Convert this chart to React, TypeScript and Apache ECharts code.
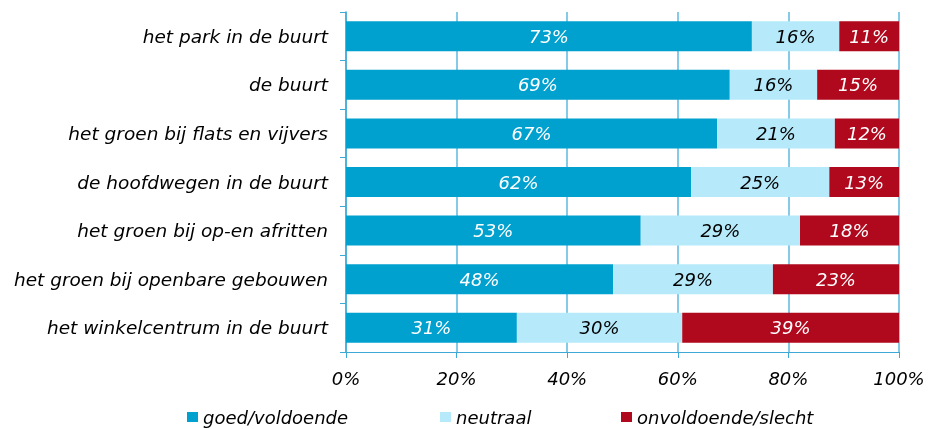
import React, { useEffect, useRef } from "react";
import * as echarts from "echarts";

const categories = [
  "het park in de buurt",
  "de buurt",
  "het groen bij flats en vijvers",
  "de hoofdwegen in de buurt",
  "het groen bij op-en afritten",
  "het groen bij openbare gebouwen",
  "het winkelcentrum in de buurt",
];
const goed = [73.4, 69.4, 67.1, 62.4, 53.3, 48.3, 30.9];
const neutraal = [15.8, 15.8, 21.3, 25.0, 28.8, 28.9, 29.9];
const onvoldoende = [10.8, 14.8, 11.6, 12.6, 17.9, 22.8, 39.2];
const xTicks = [0, 20, 40, 60, 80, 100];
const seriesNames = ["goed/voldoende", "neutraal", "onvoldoende/slecht"];

const FONT = "DejaVu Sans";
const AXIS_COLOR = "#3fa9d6";
const GRID_COLOR = "#5db8df";

export default function App() {
  const ref = useRef<HTMLDivElement>(null);
  useEffect(() => {
    const chart = echarts.init(ref.current!, null, { renderer: "svg" });
    const labelStyle = (color: string) => ({
      show: true,
      position: "inside",
      formatter: (p: any) => Math.round(p.value) + "%",
      color,
      fontFamily: FONT,
      fontStyle: "italic",
      fontSize: 18,
    });
    const legendBase = {
      top: 406,
      padding: 0,
      icon: "rect",
      itemWidth: 11,
      itemHeight: 10,
      textStyle: {
        fontFamily: FONT,
        fontStyle: "italic",
        fontSize: 18,
        lineHeight: 22,
        color: "#000",
      },
    };
    chart.setOption({
      animation: false,
      textStyle: { fontFamily: FONT },
      grid: { left: 346, right: 31, top: 12, bottom: 77 },
      legend: [
        { ...legendBase, left: 187, data: [seriesNames[0]] },
        { ...legendBase, left: 440, data: [seriesNames[1]] },
        { ...legendBase, left: 621, data: [seriesNames[2]] },
      ],
      xAxis: {
        type: "value",
        min: 0,
        max: 100,
        interval: 20,
        axisLine: { show: true, lineStyle: { color: AXIS_COLOR, width: 1 } },
        axisTick: { show: true, length: 6, lineStyle: { color: AXIS_COLOR } },
        splitLine: { show: true, lineStyle: { color: GRID_COLOR, width: 1.5 } },
        axisLabel: {
          margin: 17,
          fontFamily: FONT,
          fontStyle: "italic",
          fontSize: 18,
          color: "#000",
          formatter: (v: number) => (xTicks.includes(v) ? v + "%" : ""),
        },
      },
      yAxis: {
        type: "category",
        inverse: true,
        data: categories,
        axisLine: { show: true, lineStyle: { color: AXIS_COLOR, width: 1.5 } },
        axisTick: { show: true, length: 6, lineStyle: { color: AXIS_COLOR } },
        axisLabel: {
          margin: 18,
          fontFamily: FONT,
          fontStyle: "italic",
          fontSize: 18.5,
          color: "#000",
        },
      },
      series: [
        {
          name: seriesNames[0],
          type: "bar",
          stack: "total",
          data: goed,
          barWidth: 30,
          itemStyle: { color: "#00a0cf" },
          label: labelStyle("#ffffff"),
        },
        {
          name: seriesNames[1],
          type: "bar",
          stack: "total",
          data: neutraal,
          barWidth: 30,
          itemStyle: { color: "#b6eafb" },
          label: labelStyle("#000000"),
        },
        {
          name: seriesNames[2],
          type: "bar",
          stack: "total",
          data: onvoldoende,
          barWidth: 30,
          itemStyle: { color: "#b0081d" },
          label: labelStyle("#ffffff"),
        },
      ],
    });
    return () => chart.dispose();
  }, []);
  return (
    <div
      ref={ref}
      style={{ position: "fixed", left: 0, top: 0, width: 930, height: 429 }}
    />
  );
}
